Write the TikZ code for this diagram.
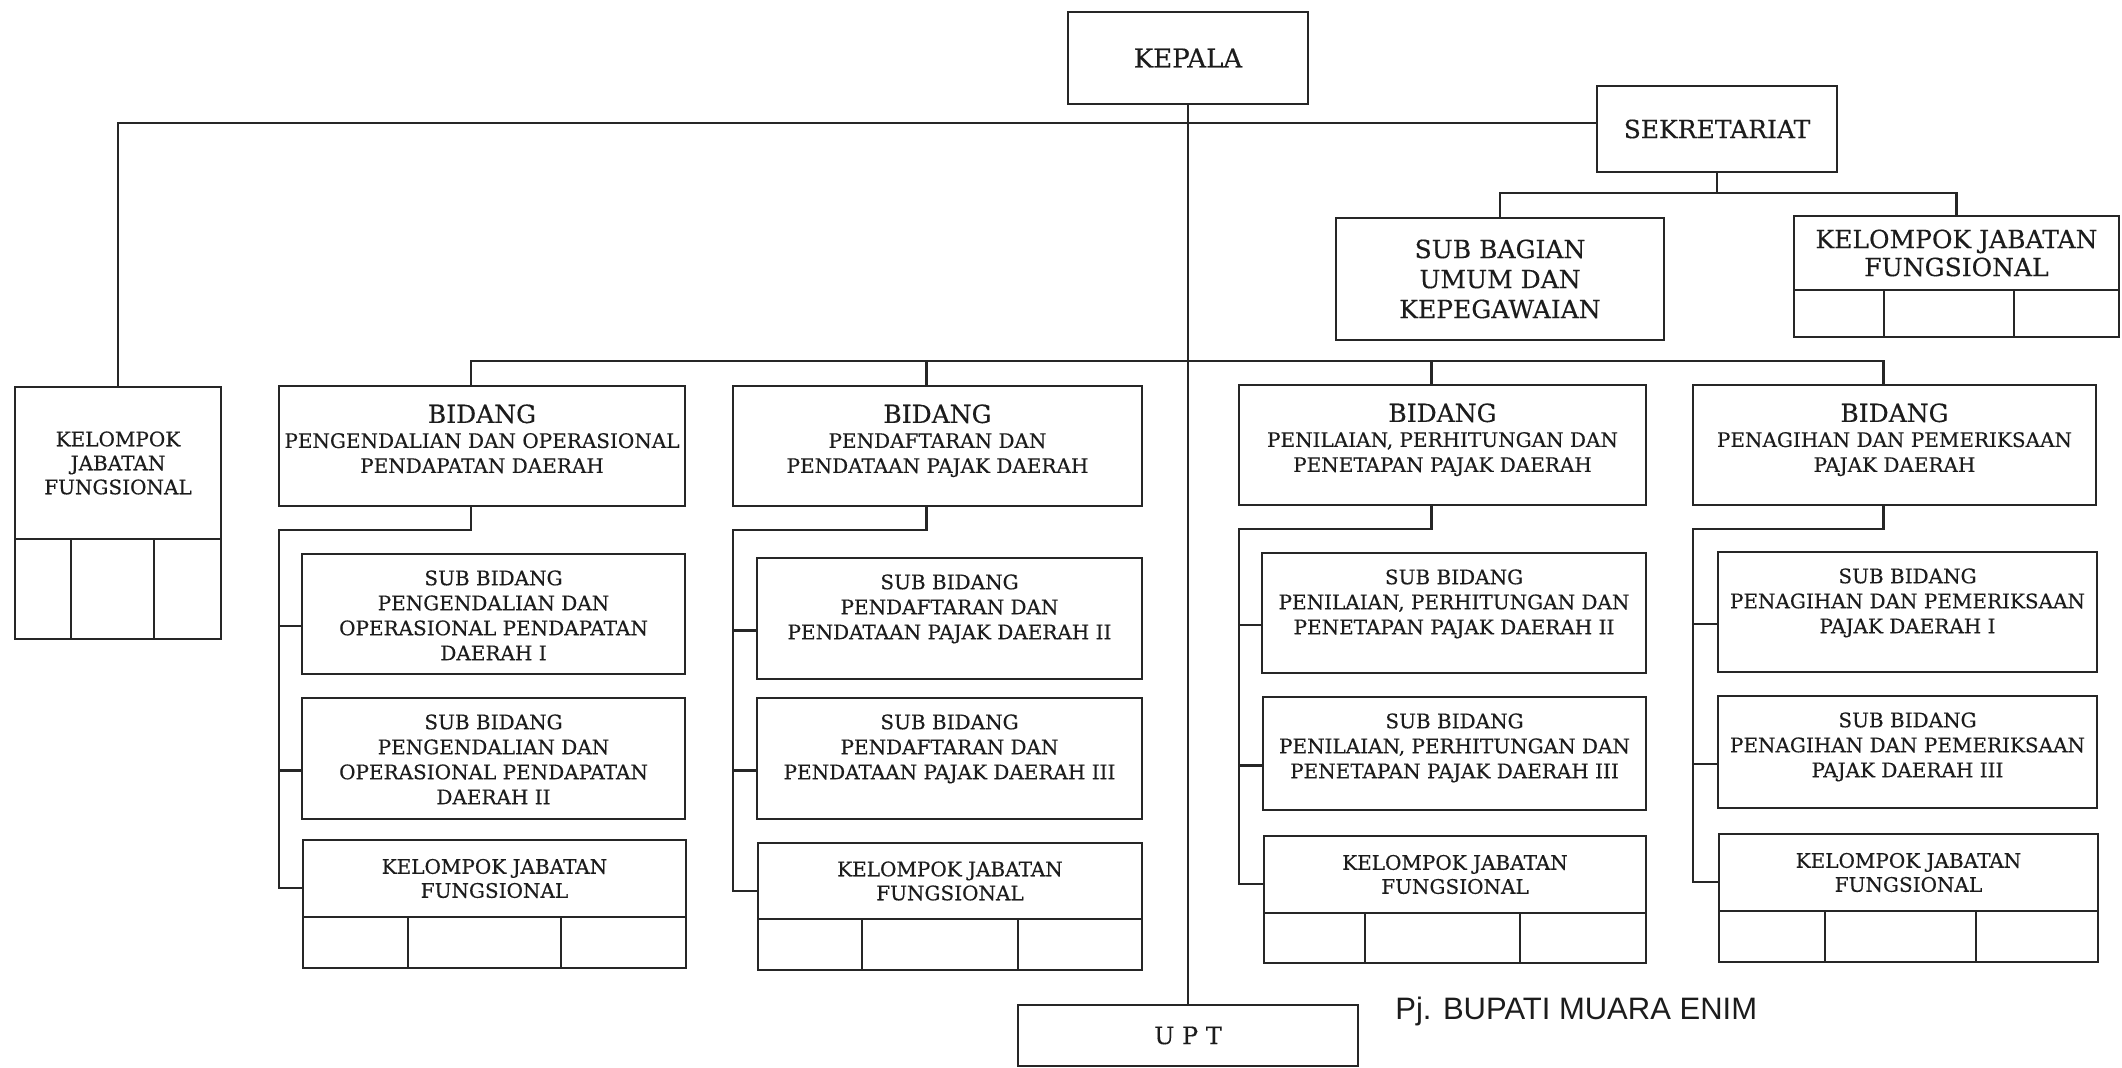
\documentclass[tikz,border=0pt]{standalone}
\usepackage{fontspec}
\setmainfont{DejaVu Serif}[FakeBold=0.35]
\newfontfamily\pjfont{Liberation Sans}
\definecolor{linec}{HTML}{262626}
\definecolor{txtc}{HTML}{1C1C1C}
\tikzset{
  bx/.style={draw=linec, line width=1.2pt, inner sep=0pt, outer sep=0pt, rectangle},
  ln/.style={draw=linec, line width=1.2pt},
  tbig/.style={font=\fontsize{12.5}{15}\selectfont, align=center, inner sep=0pt, text=txtc},
  tsm/.style={font=\fontsize{10}{12.5}\selectfont, align=center, inner sep=0pt, text=txtc},
  tkj/.style={font=\fontsize{10}{12}\selectfont, align=center, inner sep=0pt, text=txtc},
}
\newcommand\rbox[5]{\node[bx, anchor=north west, minimum width={0.5pt*(#4-#2)}, minimum height={0.5pt*(#5-#3)}] (#1) at (#2,#3) {};}
\newcommand\kjbox[9]{%
  \rbox{#1}{#2}{#3}{#4}{#5}
  \draw[ln] (#2,#6) -- (#4,#6) (#7,#6) -- (#7,#5) (#8,#6) -- (#8,#5);
  \node[tkj] (#1t) at ({(#2+#4)/2},{(#3+#6)/2}) {#9};
}
\begin{document}
\begin{tikzpicture}[x=0.5pt,y=-0.5pt]
\useasboundingbox[fill=white] (0,0) rectangle (2122,1068);

% top level
\rbox{kepala}{1068}{12}{1308}{104}
\node[tbig, font=\fontsize{13}{15}\selectfont] (kepalat) at (kepala.center) {KEPALA};
\rbox{sek}{1597}{86}{1837}{172}
\node[tbig] (sekt) at (sek.center) {SEKRETARIAT};
\rbox{subbag}{1336}{218}{1664}{340}
\node[tbig] (subbagt) at (subbag.center) {SUB BAGIAN\\UMUM DAN\\KEPEGAWAIAN};
\rbox{kjtr}{1794}{216}{2119}{337}
\draw[ln] (1794,290) -- (2119,290) (1884,290) -- (1884,337) (2014,290) -- (2014,337);
\node[tbig, font=\fontsize{12.5}{14}\selectfont] (kjtrt) at ({(1794+2119)/2},253) {KELOMPOK JABATAN\\FUNGSIONAL};
\rbox{upt}{1018}{1005}{1358}{1066}
\node[tbig, font=\fontsize{12}{14}\selectfont] (uptt) at (upt.center) {U P T};

% left kelompok
\kjbox{lkj}{15}{387}{221}{639}{539}{71}{154}{KELOMPOK\\JABATAN\\FUNGSIONAL}

% bidang
\rbox{b1}{279}{386}{685}{506}
\rbox{b2}{733}{386}{1142}{506}
\rbox{b3}{1239}{385}{1646}{505}
\rbox{b4}{1693}{385}{2096}{505}
\node[tsm, anchor=north] (b1t) at ([yshift=-9pt]b1.north) {{\fontsize{12.5}{15}\selectfont BIDANG}\\PENGENDALIAN DAN OPERASIONAL\\PENDAPATAN DAERAH};
\node[tsm, anchor=north] (b2t) at ([yshift=-9pt]b2.north) {{\fontsize{12.5}{15}\selectfont BIDANG}\\PENDAFTARAN DAN\\PENDATAAN PAJAK DAERAH};
\node[tsm, anchor=north] (b3t) at ([yshift=-9pt]b3.north) {{\fontsize{12.5}{15}\selectfont BIDANG}\\PENILAIAN, PERHITUNGAN DAN\\PENETAPAN PAJAK DAERAH};
\node[tsm, anchor=north] (b4t) at ([yshift=-9pt]b4.north) {{\fontsize{12.5}{15}\selectfont BIDANG}\\PENAGIHAN DAN PEMERIKSAAN\\PAJAK DAERAH};

% sub bidang column 1
\rbox{s11}{302}{554}{685}{674}
\node[tsm, anchor=north] (s11t) at ([yshift=-8pt]s11.north) {SUB BIDANG\\PENGENDALIAN DAN\\OPERASIONAL PENDAPATAN\\DAERAH I};
\rbox{s12}{302}{698}{685}{819}
\node[tsm, anchor=north] (s12t) at ([yshift=-8pt]s12.north) {SUB BIDANG\\PENGENDALIAN DAN\\OPERASIONAL PENDAPATAN\\DAERAH II};
\kjbox{k1}{303}{840}{686}{968}{917}{408}{561}{KELOMPOK JABATAN\\FUNGSIONAL}

% column 2
\rbox{s21}{757}{558}{1142}{679}
\node[tsm, anchor=north] (s21t) at ([yshift=-8pt]s21.north) {SUB BIDANG\\PENDAFTARAN DAN\\PENDATAAN PAJAK DAERAH II};
\rbox{s22}{757}{698}{1142}{819}
\node[tsm, anchor=north] (s22t) at ([yshift=-8pt]s22.north) {SUB BIDANG\\PENDAFTARAN DAN\\PENDATAAN PAJAK DAERAH III};
\kjbox{k2}{758}{843}{1142}{970}{919}{862}{1018}{KELOMPOK JABATAN\\FUNGSIONAL}

% column 3
\rbox{s31}{1262}{553}{1646}{673}
\node[tsm, anchor=north] (s31t) at ([yshift=-8pt]s31.north) {SUB BIDANG\\PENILAIAN, PERHITUNGAN DAN\\PENETAPAN PAJAK DAERAH II};
\rbox{s32}{1263}{697}{1646}{810}
\node[tsm, anchor=north] (s32t) at ([yshift=-8pt]s32.north) {SUB BIDANG\\PENILAIAN, PERHITUNGAN DAN\\PENETAPAN PAJAK DAERAH III};
\kjbox{k3}{1264}{836}{1646}{963}{913}{1365}{1520}{KELOMPOK JABATAN\\FUNGSIONAL}

% column 4
\rbox{s41}{1718}{552}{2097}{672}
\node[tsm, anchor=north] (s41t) at ([yshift=-8pt]s41.north) {SUB BIDANG\\PENAGIHAN DAN PEMERIKSAAN\\PAJAK DAERAH I};
\rbox{s42}{1718}{696}{2097}{808}
\node[tsm, anchor=north] (s42t) at ([yshift=-8pt]s42.north) {SUB BIDANG\\PENAGIHAN DAN PEMERIKSAAN\\PAJAK DAERAH III};
\kjbox{k4}{1719}{834}{2098}{962}{911}{1825}{1976}{KELOMPOK JABATAN\\FUNGSIONAL}

% signature
\node[anchor=base west, inner sep=0pt, text=txtc, font=\pjfont\fontsize{15.5}{18}\selectfont] (pj) at (1395,1020) {Pj. BUPATI MUARA ENIM};

% connectors: top level
\draw[ln] (kepala.south) -- (upt.north);
\draw[ln] (lkj.north) |- ([yshift=3pt]sek.west);
\draw[ln] (sek.south) -- ++(0,21) coordinate (h1) -| (subbag.north);
\draw[ln] (h1) -| (kjtr.north);

% second level
\draw[ln] ([xshift=-5.5pt]b1.north) -- ++(0,-25) coordinate (h2) -| ([xshift=-5.5pt]b4.north);
\draw[ln] ([xshift=-5.5pt]b2.north) -- ([xshift=-5.5pt]b2.north |- h2);
\draw[ln] ([xshift=-5.5pt]b3.north) -- ([xshift=-5.5pt]b3.north |- h2);

% columns
\foreach \b/\sa/\sb/\k in {b1/s11/s12/k1, b2/s21/s22/k2, b3/s31/s32/k3, b4/s41/s42/k4}{
  \coordinate (\sa tk) at ([yshift=-6pt]\sa.west);
  \coordinate (\sb tk) at ([yshift=-6pt]\sb.west);
  \coordinate (\k tk) at ([yshift=-24pt]\k.north west);
  \draw[ln] ([xshift=-5.5pt]\b.south) -- ++(0,24) -| (\b.west |- \k tk) -- (\k tk);
  \draw[ln] (\b.west |- \sa tk) -- (\sa tk);
  \draw[ln] (\b.west |- \sb tk) -- (\sb tk);
}
\end{tikzpicture}
\end{document}
